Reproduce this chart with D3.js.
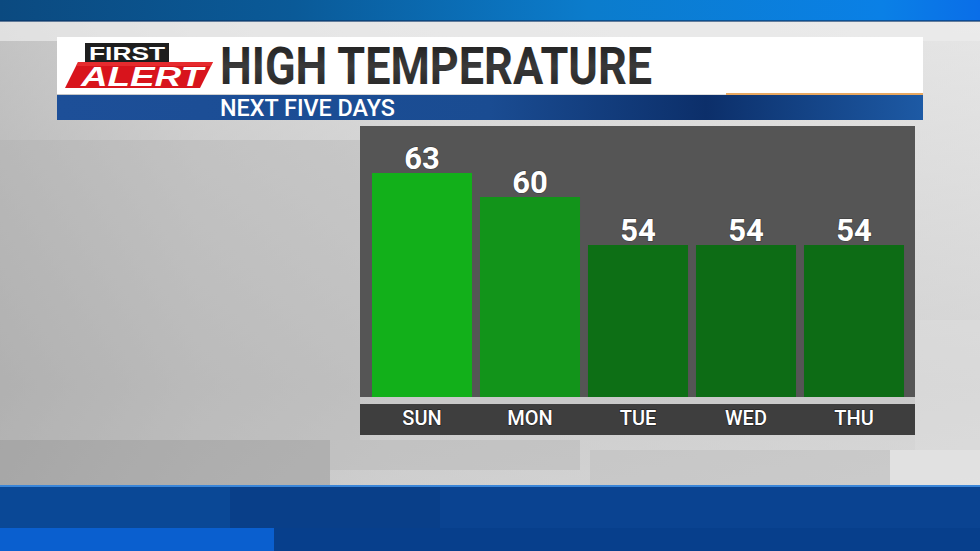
<!DOCTYPE html>
<html><head><meta charset="utf-8">
<script src="https://cdn.jsdelivr.net/npm/d3@7"></script>
<style>html,body{margin:0;padding:0;overflow:hidden;background:#ccc}</style>
</head><body>
<svg id="c" width="980" height="551"></svg>
<script>
const days = ["SUN","MON","TUE","WED","THU"];
const highs = [63, 60, 54, 54, 54];
const title = "HIGH TEMPERATURE";
const subtitle = "NEXT FIVE DAYS";

const svg = d3.select("#c");
const defs = svg.append("defs");

function lg(id, stops, x2="1", y2="0"){
  const g = defs.append("linearGradient").attr("id", id).attr("x1",0).attr("y1",0).attr("x2",x2).attr("y2",y2);
  stops.forEach(s => g.append("stop").attr("offset", s[0]).attr("stop-color", s[1]));
}
lg("bg", [[0,"#a9a9a9"],[0.2,"#c4c4c4"],[0.4,"#d4d4d4"],[1,"#e6e6e6"]]);
lg("bgv", [[0,"#e8e8e8"],[0.35,"#d2d2d2"],[0.7,"#bdbdbd"],[1,"#cfcfcf"]], "0", "1");
lg("topband", [[0,"#0b4a80"],[0.3,"#0a5a98"],[0.6,"#0b7ccc"],[0.9,"#0a80e6"],[1,"#0a6ee8"]]);
lg("sub", [[0,"#1d4f98"],[0.5,"#1a4c92"],[0.75,"#0c2f6a"],[1,"#1d5aa5"]]);
lg("title", [[0,"#1a1a1a"],[0.5,"#3a3a3a"],[1,"#202020"]], "0", "1");

// background
svg.append("rect").attr("x",0).attr("y",0).attr("width",980).attr("height",551).attr("fill","url(#bgv)");
svg.append("rect").attr("x",0).attr("y",0).attr("width",980).attr("height",551).attr("fill","url(#bg)").attr("opacity",0.55);
// textured blocks
const blocks = [
  [0,140,360,300,"#b0b0b0",0.35],
  [0,440,330,45,"#9a9a9a",0.55],
  [330,440,250,30,"#b8b8b8",0.5],
  [590,450,300,36,"#bdbdbd",0.5],
  [890,450,90,36,"#e4e4e4",0.8],
  [915,320,65,130,"#dcdcdc",0.6],
  [0,21,980,20,"#ececec",0.7]
];
svg.selectAll("rect.blk").data(blocks).join("rect").attr("class","blk")
  .attr("x",d=>d[0]).attr("y",d=>d[1]).attr("width",d=>d[2]).attr("height",d=>d[3])
  .attr("fill",d=>d[4]).attr("opacity",d=>d[5]);

// top band
svg.append("rect").attr("x",0).attr("y",0).attr("width",980).attr("height",21).attr("fill","url(#topband)");
svg.append("rect").attr("x",0).attr("y",20).attr("width",980).attr("height",2).attr("fill","#0a3466").attr("opacity",0.6);

// bottom bands
svg.append("rect").attr("x",0).attr("y",485).attr("width",980).attr("height",2).attr("fill","#3b86d8");
svg.append("rect").attr("x",0).attr("y",487).attr("width",980).attr("height",64).attr("fill","#0a4391");
svg.append("rect").attr("x",0).attr("y",487).attr("width",440).attr("height",41).attr("fill","#0a4896");
svg.append("rect").attr("x",230).attr("y",487).attr("width",210).attr("height",41).attr("fill","#083a80").attr("opacity",0.6);
svg.append("rect").attr("x",0).attr("y",528).attr("width",274).attr("height",23).attr("fill","#0a5fcf");
svg.append("rect").attr("x",274).attr("y",528).attr("width",706).attr("height",23).attr("fill","#073f8c");

// title box
svg.append("rect").attr("x",57).attr("y",37).attr("width",866).attr("height",57).attr("fill","#ffffff");
svg.append("rect").attr("x",57).attr("y",95).attr("width",866).attr("height",25).attr("fill","url(#sub)");
svg.append("rect").attr("x",726).attr("y",93).attr("width",197).attr("height",2).attr("fill","#e8a860");

// logo
svg.append("rect").attr("x",85).attr("y",43).attr("width",84).attr("height",19).attr("fill","#1e1e1e");
svg.append("text").attr("x",127).attr("y",60).attr("text-anchor","middle")
  .attr("font-family","Liberation Sans, Arial, sans-serif").attr("font-weight","bold").attr("font-size",19)
  .attr("fill","#ffffff").attr("textLength",76).attr("lengthAdjust","spacingAndGlyphs").text("FIRST");
svg.append("path").attr("d","M78,62 L213,62 L200,88 L65,88 Z").attr("fill","#d8141c");
svg.append("path").attr("d","M78,62 L213,62 L211,66 L76,66 Z").attr("fill","#f03a3a").attr("opacity",0.6);
svg.append("text").attr("x",142).attr("y",86).attr("text-anchor","middle")
  .attr("font-family","Liberation Sans, Arial, sans-serif").attr("font-weight","bold").attr("font-style","italic").attr("font-size",27)
  .attr("fill","#ffffff").attr("textLength",122).attr("lengthAdjust","spacingAndGlyphs").text("ALERT");

// title text
svg.append("text").attr("x",220).attr("y",84)
  .attr("font-family","Roboto, Liberation Sans, sans-serif").attr("font-weight","bold").attr("font-size",51)
  .attr("fill","url(#title)").attr("textLength",432).attr("lengthAdjust","spacingAndGlyphs").text(title);
svg.append("text").attr("x",220).attr("y",116)
  .attr("font-family","Roboto, Liberation Sans, sans-serif").attr("font-weight","500").attr("font-size",23)
  .attr("fill","#ffffff").attr("textLength",175).attr("lengthAdjust","spacingAndGlyphs").text(subtitle);

// chart panel
svg.append("rect").attr("x",360).attr("y",126).attr("width",555).attr("height",271).attr("fill","#555555");
svg.append("rect").attr("x",360).attr("y",397).attr("width",555).attr("height",7).attr("fill","#c8c8c8").attr("opacity",0.8);
svg.append("rect").attr("x",360).attr("y",404).attr("width",555).attr("height",31).attr("fill","#3e3e3e");

const x = d3.scaleBand().domain(days).range([368, 908]).paddingInner(0.074).paddingOuter(0.037);
const y = d3.scaleLinear().domain([35, 63]).range([397, 173]);
const color = d3.scaleOrdinal().domain(days).range(["#12b01a","#12941a","#0d6f15","#0d6c15","#0d6c15"]);

const data = days.map((d,i)=>({day:d, v:highs[i]}));

svg.append("g").selectAll("rect").data(data).join("rect")
  .attr("x", d=>x(d.day)).attr("width", x.bandwidth())
  .attr("y", d=>y(d.v)).attr("height", d=>y.range()[0]-y(d.v))
  .attr("fill", d=>color(d.day));

svg.append("g").selectAll("text").data(data).join("text")
  .attr("x", d=>x(d.day)+x.bandwidth()/2).attr("y", d=>y(d.v)-4)
  .attr("text-anchor","middle").attr("font-family","Roboto, Liberation Sans, sans-serif")
  .attr("font-weight","bold").attr("font-size",31).attr("fill","#ffffff")
  .attr("style","paint-order:stroke").attr("stroke","rgba(0,0,0,0.25)").attr("stroke-width",1.5)
  .text(d=>d.v);

// x axis labels
const xAxis = d3.axisBottom(x).tickSize(0).tickPadding(0);
const ax = svg.append("g").attr("transform","translate(0,411)").call(xAxis);
ax.select(".domain").remove();
ax.selectAll("text").attr("font-family","Roboto, Liberation Sans, sans-serif").attr("font-weight","500")
  .attr("font-size",20).attr("fill","#ffffff").attr("dy","0.71em")
  .attr("style","paint-order:stroke").attr("stroke","rgba(0,0,0,0.4)").attr("stroke-width",1.5);
</script>
</body></html>
